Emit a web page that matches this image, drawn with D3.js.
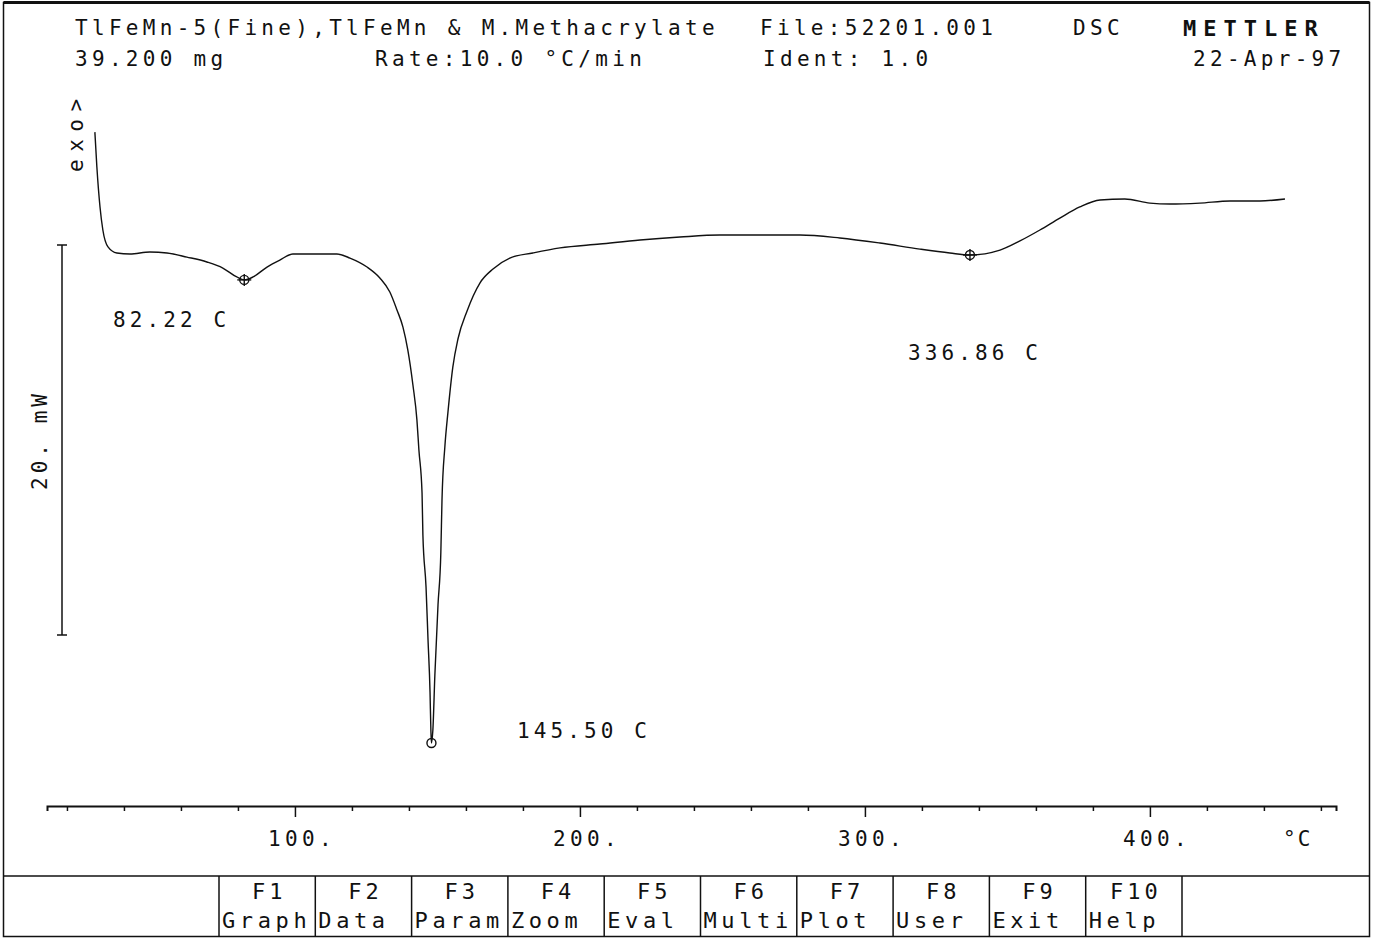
<!DOCTYPE html>
<html>
<head>
<meta charset="utf-8">
<script src="https://cdn.jsdelivr.net/npm/d3@7"></script>
<style>
  html, body { margin: 0; padding: 0; background: #fff; }
  svg { display: block; }
  text { font-family: "DejaVu Sans Mono", "Liberation Mono", monospace; fill: #111; }
</style>
</head>
<body>
<svg id="chart" width="1373" height="938"></svg>
<script>
// ---------- DATA ----------
const temperature = [29.8, 30.5, 31.6, 32.6, 34.4, 37.5, 42.1, 49.1, 55.1, 62.1, 69.1, 74.7, 79.6, 82.2, 85.3, 90.2, 94.7, 99.3, 107.0, 114.7, 119.3, 125.3, 129.8, 133.3, 135.8, 137.9, 139.6, 141.4, 142.8, 143.5, 144.6, 144.9, 146.0, 146.7, 147.4, 147.7, 147.9, 148.4, 149.1, 150.2, 151.2, 151.6, 152.6, 153.7, 155.4, 157.2, 160.4, 164.9, 169.5, 175.4, 183.5, 193.0, 207.0, 221.1, 235.1, 249.1, 263.2, 277.2, 291.2, 305.3, 319.3, 329.8, 336.8, 347.4, 354.4, 361.4, 368.4, 375.4, 382.5, 391.2, 400.0, 407.0, 417.5, 428.1, 438.6, 447.4];
const heatFlow = [5.79, 4.0, 1.95, 0.77, -0.10, -0.41, -0.46, -0.36, -0.41, -0.62, -0.87, -1.18, -1.64, -1.79, -1.64, -1.13, -0.77, -0.46, -0.46, -0.46, -0.67, -1.13, -1.69, -2.41, -3.33, -4.21, -5.38, -7.18, -8.97, -10.51, -12.72, -14.87, -17.54, -20.26, -22.92, -24.87, -25.54, -24.87, -22.05, -18.46, -15.74, -13.08, -10.36, -8.56, -6.26, -4.82, -3.38, -1.95, -1.23, -0.67, -0.41, -0.15, 0.05, 0.26, 0.41, 0.51, 0.51, 0.51, 0.36, 0.10, -0.21, -0.41, -0.51, -0.26, 0.21, 0.77, 1.38, 1.95, 2.31, 2.36, 2.15, 2.10, 2.15, 2.26, 2.26, 2.36];

const peakTemps = [82.22, 147.9, 336.86];
const peakFlows = [-1.79, -25.54, -0.51];
const peakLabels = ["82.22 C", "145.50 C", "336.86 C"];
const peakMarkerKinds = ["cross", "circle", "cross"];

const tickValues = [20, 40, 60, 80, 100, 120, 140, 160, 180, 200, 220, 240, 260, 280, 300, 320, 340, 360, 380, 400, 420, 440, 460];
const majorTicks = [100, 200, 300, 400];
const scaleBar = [0, -20];   // mW
const scaleBarLabel = "20. mW";

const headerLine1 = ["TlFeMn-5(Fine),TlFeMn & M.Methacrylate", "File:52201.001", "DSC"];
const headerLine2 = ["39.200 mg", "Rate:10.0 °C/min", "Ident: 1.0", "22-Apr-97"];
const brand = "METTLER";
const fKeys = ["F1", "F2", "F3", "F4", "F5", "F6", "F7", "F8", "F9", "F10"];
const fKeyNames = ["Graph", "Data", "Param", "Zoom", "Eval", "Multi", "Plot", "User", "Exit", "Help"];

// ---------- SCALES ----------
const svg = d3.select("#chart");
const x = d3.scaleLinear().domain([13, 465.3]).range([47, 1336]);
const y = d3.scaleLinear().domain([0, -20]).range([245, 635]);
const axisY = 806;

// ---------- FRAME ----------
svg.append("rect").attr("x", 3.5).attr("y", 2.5).attr("width", 1366).attr("height", 934)
  .attr("fill", "none").attr("stroke", "#111").attr("stroke-width", 1.5);
svg.append("line").attr("x1", 3.5).attr("x2", 1369.5).attr("y1", 2.5).attr("y2", 2.5)
  .attr("stroke", "#111").attr("stroke-width", 3);

// ---------- HEADER ----------
const hdr = svg.append("g").style("font-size", "21px").style("letter-spacing", "4.3px");
hdr.append("text").attr("x", 75).attr("y", 35).text(headerLine1[0]);
hdr.append("text").attr("x", 760).attr("y", 35).text(headerLine1[1]);
hdr.append("text").attr("x", 1073).attr("y", 35).text(headerLine1[2]);
hdr.append("text").attr("x", 75).attr("y", 66).text(headerLine2[0]);
hdr.append("text").attr("x", 375).attr("y", 66).text(headerLine2[1]);
hdr.append("text").attr("x", 763).attr("y", 66).text(headerLine2[2]);
hdr.append("text").attr("x", 1193).attr("y", 66).text(headerLine2[3]);
svg.append("text").attr("x", 1183).attr("y", 36).style("font-size", "22px")
  .style("font-weight", "bold").style("letter-spacing", "7px").text(brand);

// exo label
svg.append("text").attr("transform", "translate(83,172) rotate(-90)")
  .style("font-size", "21px").style("letter-spacing", "7.5px").text("exo>");

// ---------- SCALE BAR ----------
const sb = svg.append("g").attr("stroke", "#111").attr("stroke-width", 1.5);
sb.append("line").attr("x1", 62).attr("x2", 62).attr("y1", y(scaleBar[0])).attr("y2", y(scaleBar[1]));
scaleBar.forEach(v => {
  sb.append("line").attr("x1", 57).attr("x2", 67).attr("y1", y(v)).attr("y2", y(v));
});
svg.append("text").attr("transform", `translate(47,${(y(scaleBar[0]) + y(scaleBar[1])) / 2}) rotate(-90)`)
  .attr("text-anchor", "middle").style("font-size", "21px").style("letter-spacing", "4px")
  .text(scaleBarLabel);

// ---------- X AXIS ----------
const xAxis = d3.axisBottom(x).tickValues(tickValues).tickSize(5).tickFormat("");
const gx = svg.append("g").attr("transform", `translate(0,${axisY})`).call(xAxis);
gx.select(".domain").attr("stroke", "#111").attr("stroke-width", 2);
gx.selectAll(".tick line").attr("stroke", "#111").attr("stroke-width", 1.5)
  .attr("y2", d => majorTicks.includes(d) ? 11 : 5);
svg.append("g").selectAll("text").data(majorTicks).join("text")
  .attr("x", d => x(d) - 27).attr("y", 846)
  .style("font-size", "21px").style("letter-spacing", "4.4px")
  .text(d => d + ".");
svg.append("text").attr("x", 1283).attr("y", 846).style("font-size", "21px")
  .style("letter-spacing", "2px").text("°C");

// ---------- CURVE ----------
const pts = temperature.map((t, i) => [t, heatFlow[i]]);
const line = d3.line().x(d => x(d[0])).y(d => y(d[1])).curve(d3.curveMonotoneX);
svg.append("path").datum(pts).attr("d", line)
  .attr("fill", "none").attr("stroke", "#111").attr("stroke-width", 1.4)
  .attr("stroke-linejoin", "round");

// ---------- PEAK MARKERS ----------
peakTemps.forEach((t, i) => {
  const cx = x(t), cy = y(peakFlows[i]);
  const g = svg.append("g").attr("stroke", "#111").attr("fill", "none").attr("stroke-width", 1.4);
  g.append("circle").attr("cx", cx).attr("cy", cy).attr("r", 4.5);
  if (peakMarkerKinds[i] === "cross") {
    g.append("line").attr("x1", cx - 7).attr("x2", cx + 7).attr("y1", cy).attr("y2", cy);
    g.append("line").attr("x1", cx).attr("x2", cx).attr("y1", cy - 6).attr("y2", cy + 6);
  }
});
const labelPos = [[113, 327], [517, 738], [908, 360]];
peakLabels.forEach((s, i) => {
  svg.append("text").attr("x", labelPos[i][0]).attr("y", labelPos[i][1])
    .style("font-size", "21px").style("letter-spacing", "4.1px").text(s);
});

// ---------- FUNCTION KEY BAR ----------
const barTop = 876, barBottom = 936.5;
svg.append("line").attr("x1", 3.5).attr("x2", 1369.5).attr("y1", barTop).attr("y2", barTop)
  .attr("stroke", "#111").attr("stroke-width", 1.5);
const keyW = 96.3, keyX0 = 219;
const seps = d3.range(fKeys.length + 1).map(i => keyX0 + i * keyW);
svg.append("g").selectAll("line").data(seps).join("line")
  .attr("x1", d => d).attr("x2", d => d).attr("y1", barTop).attr("y2", barBottom)
  .attr("stroke", "#111").attr("stroke-width", 1.5);
svg.append("g").selectAll("text").data(fKeys).join("text")
  .attr("x", (d, i) => keyX0 + i * keyW + keyW / 2 + 2).attr("y", 899)
  .attr("text-anchor", "middle").style("font-size", "22px").style("letter-spacing", "4px")
  .text(d => d);
svg.append("g").selectAll("text").data(fKeyNames).join("text")
  .attr("x", (d, i) => keyX0 + i * keyW + 3).attr("y", 928)
  .style("font-size", "22px").style("letter-spacing", "4.6px")
  .text(d => d);
</script>
</body>
</html>
